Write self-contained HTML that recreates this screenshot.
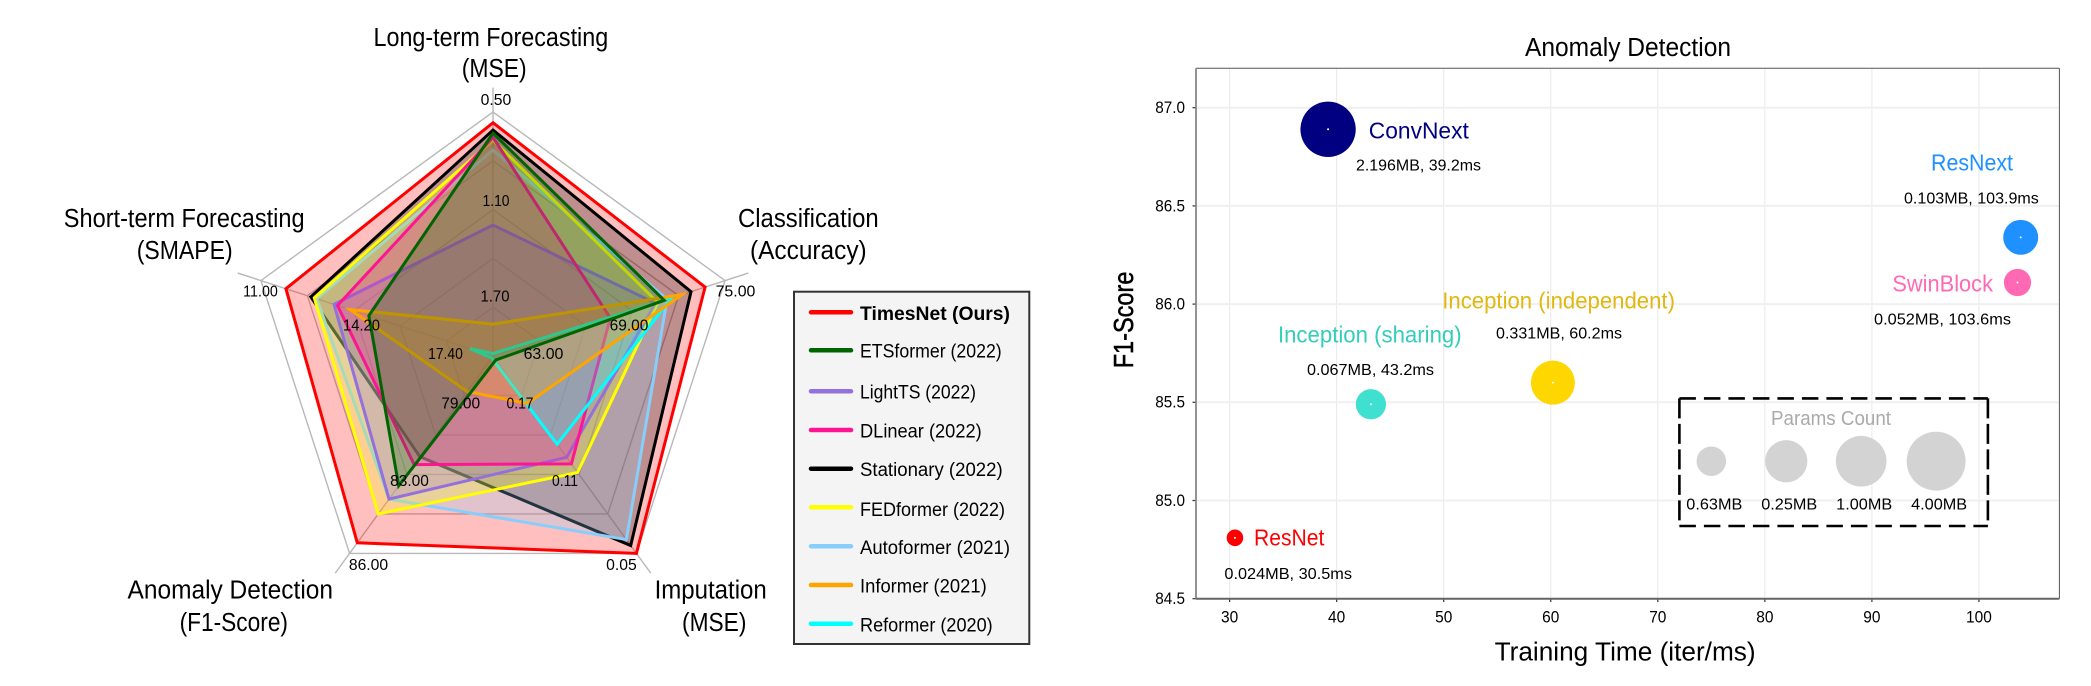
<!DOCTYPE html>
<html lang="en">
<head>
<meta charset="utf-8">
<title>TimesNet radar and anomaly detection bubble chart</title>
<style>
html,body{margin:0;padding:0;background:#fff;width:2091px;height:686px;overflow:hidden}
svg{display:block}
text{font-family:"Liberation Sans",sans-serif;fill:#000}
.axis-name{font-size:25.5px}
.radar-tick{font-size:15.5px;text-anchor:middle}
.legend-text{font-size:19px}
.note{font-size:16px;text-anchor:middle}
.model{font-size:23px;text-anchor:middle}
.tick{font-size:16.5px}
</style>
</head>
<body>
<svg id="figure" xmlns="http://www.w3.org/2000/svg" width="2091" height="686" viewBox="0 0 2091 686">
  <g id="radar">
    <g id="radar-grid"></g>
    <g id="radar-series"></g>
    <g>
      <text class="axis-name" x="373.5" y="46" textLength="234.7" lengthAdjust="spacingAndGlyphs">Long-term Forecasting</text>
      <text class="axis-name" x="461.7" y="77" textLength="65" lengthAdjust="spacingAndGlyphs">(MSE)</text>
      <text class="axis-name" x="63.8" y="227" textLength="240.8" lengthAdjust="spacingAndGlyphs">Short-term Forecasting</text>
      <text class="axis-name" x="136.7" y="259" textLength="96" lengthAdjust="spacingAndGlyphs">(SMAPE)</text>
      <text class="axis-name" x="738" y="227" textLength="140.7" lengthAdjust="spacingAndGlyphs">Classification</text>
      <text class="axis-name" x="750" y="259" textLength="116.7" lengthAdjust="spacingAndGlyphs">(Accuracy)</text>
      <text class="axis-name" x="127.5" y="598.3" textLength="205.5" lengthAdjust="spacingAndGlyphs">Anomaly Detection</text>
      <text class="axis-name" x="179.6" y="631" textLength="108.4" lengthAdjust="spacingAndGlyphs">(F1-Score)</text>
      <text class="axis-name" x="654.6" y="598.3" textLength="112.2" lengthAdjust="spacingAndGlyphs">Imputation</text>
      <text class="axis-name" x="682" y="631" textLength="64.4" lengthAdjust="spacingAndGlyphs">(MSE)</text>
    </g>
    <g>
      <text class="radar-tick" x="496" y="105" textLength="30.6" lengthAdjust="spacingAndGlyphs">0.50</text>
      <text class="radar-tick" x="496" y="206" textLength="27" lengthAdjust="spacingAndGlyphs">1.10</text>
      <text class="radar-tick" x="495" y="301.7" textLength="29" lengthAdjust="spacingAndGlyphs">1.70</text>
      <text class="radar-tick" x="260.5" y="296.7" textLength="34.7" lengthAdjust="spacingAndGlyphs">11.00</text>
      <text class="radar-tick" x="361.5" y="330.7" textLength="37" lengthAdjust="spacingAndGlyphs">14.20</text>
      <text class="radar-tick" x="445.5" y="359" textLength="34.7" lengthAdjust="spacingAndGlyphs">17.40</text>
      <text class="radar-tick" x="735.5" y="296.7" textLength="39.8" lengthAdjust="spacingAndGlyphs">75.00</text>
      <text class="radar-tick" x="629" y="330.7" textLength="38.8" lengthAdjust="spacingAndGlyphs">69.00</text>
      <text class="radar-tick" x="543.5" y="359" textLength="39.8" lengthAdjust="spacingAndGlyphs">63.00</text>
      <text class="radar-tick" x="460.7" y="408.3" textLength="38.8" lengthAdjust="spacingAndGlyphs">79.00</text>
      <text class="radar-tick" x="520" y="408.3" textLength="27" lengthAdjust="spacingAndGlyphs">0.17</text>
      <text class="radar-tick" x="409.5" y="486" textLength="38.8" lengthAdjust="spacingAndGlyphs">83.00</text>
      <text class="radar-tick" x="565" y="486" textLength="26" lengthAdjust="spacingAndGlyphs">0.11</text>
      <text class="radar-tick" x="368.5" y="570" textLength="39.3" lengthAdjust="spacingAndGlyphs">86.00</text>
      <text class="radar-tick" x="621.5" y="570" textLength="30.6" lengthAdjust="spacingAndGlyphs">0.05</text>
    </g>
    <g>
      <rect x="794" y="291.7" width="235.3" height="352.3" fill="#f4f4f4" stroke="#333" stroke-width="2"/>
      <g>
        <line x1="811" x2="851" y1="312.3" y2="312.3" stroke="#ff0000" stroke-width="4.5" stroke-linecap="round"/>
        <text class="legend-text" x="860" y="320" font-weight="bold" textLength="150" lengthAdjust="spacingAndGlyphs">TimesNet (Ours)</text>
      </g>
      <g>
        <line x1="811" x2="851" y1="350.3" y2="350.3" stroke="#006400" stroke-width="4.5" stroke-linecap="round"/>
        <text class="legend-text" x="860" y="357.3" textLength="141.7" lengthAdjust="spacingAndGlyphs">ETSformer (2022)</text>
      </g>
      <g>
        <line x1="811" x2="851" y1="391.3" y2="391.3" stroke="#9370db" stroke-width="4.5" stroke-linecap="round"/>
        <text class="legend-text" x="860" y="398.7" textLength="116" lengthAdjust="spacingAndGlyphs">LightTS (2022)</text>
      </g>
      <g>
        <line x1="811" x2="851" y1="430" y2="430" stroke="#ff1493" stroke-width="4.5" stroke-linecap="round"/>
        <text class="legend-text" x="860" y="437.7" textLength="121.7" lengthAdjust="spacingAndGlyphs">DLinear (2022)</text>
      </g>
      <g>
        <line x1="811" x2="851" y1="468.7" y2="468.7" stroke="#000000" stroke-width="4.5" stroke-linecap="round"/>
        <text class="legend-text" x="860" y="476" textLength="142.7" lengthAdjust="spacingAndGlyphs">Stationary (2022)</text>
      </g>
      <g>
        <line x1="811" x2="851" y1="507.3" y2="507.3" stroke="#ffff00" stroke-width="4.5" stroke-linecap="round"/>
        <text class="legend-text" x="860" y="516" textLength="145" lengthAdjust="spacingAndGlyphs">FEDformer (2022)</text>
      </g>
      <g>
        <line x1="811" x2="851" y1="546.3" y2="546.3" stroke="#87cefa" stroke-width="4.5" stroke-linecap="round"/>
        <text class="legend-text" x="860" y="554" textLength="150" lengthAdjust="spacingAndGlyphs">Autoformer (2021)</text>
      </g>
      <g>
        <line x1="811" x2="851" y1="585" y2="585" stroke="#ffa500" stroke-width="4.5" stroke-linecap="round"/>
        <text class="legend-text" x="860" y="592.7" textLength="126.7" lengthAdjust="spacingAndGlyphs">Informer (2021)</text>
      </g>
      <g>
        <line x1="811" x2="851" y1="623.7" y2="623.7" stroke="#00ffff" stroke-width="4.5" stroke-linecap="round"/>
        <text class="legend-text" x="860" y="631.7" textLength="132.7" lengthAdjust="spacingAndGlyphs">Reformer (2020)</text>
      </g>
    </g>
  </g>

  <g id="bubble">
    <text x="1525" y="56" font-size="25.5" textLength="206" lengthAdjust="spacingAndGlyphs">Anomaly Detection</text>
    <text x="1494.6" y="660.7" font-size="25.5" textLength="261" lengthAdjust="spacingAndGlyphs">Training Time (iter/ms)</text>
    <text transform="translate(1133 368.3) rotate(-90)" font-size="28" stroke="#000" stroke-width="0.5" textLength="96.7" lengthAdjust="spacingAndGlyphs">F1-Score</text>
    <g id="bubble-grid"></g>
    <g id="bubble-ticks"></g>
    <g>
      <line x1="1196" x2="2059.4" y1="68.3" y2="68.3" stroke="#555" stroke-width="1"/>
      <line x1="2059.4" x2="2059.4" y1="68.3" y2="598.7" stroke="#555" stroke-width="1"/>
      <line x1="1196" x2="1196" y1="68.3" y2="598.7" stroke="#888" stroke-width="1.8"/>
      <line x1="1196" x2="2059.4" y1="598.7" y2="598.7" stroke="#666" stroke-width="2"/>
    </g>
    <g id="bubble-points"></g>
    <g>
      <text class="model" x="1418.8" y="138.3" style="fill:#000080" textLength="100" lengthAdjust="spacingAndGlyphs">ConvNext</text>
      <text class="note" x="1418.5" y="170.7" textLength="125" lengthAdjust="spacingAndGlyphs">2.196MB, 39.2ms</text>
      <text class="model" x="1972" y="170.7" style="fill:#1e90ff" textLength="82" lengthAdjust="spacingAndGlyphs">ResNext</text>
      <text class="note" x="1971.4" y="203.3" textLength="134.8" lengthAdjust="spacingAndGlyphs">0.103MB, 103.9ms</text>
      <text class="model" x="1942.7" y="291.7" style="fill:#ff69b4" textLength="100.6" lengthAdjust="spacingAndGlyphs">SwinBlock</text>
      <text class="note" x="1942.5" y="324.3" textLength="137" lengthAdjust="spacingAndGlyphs">0.052MB, 103.6ms</text>
      <text class="model" x="1558.6" y="308.3" style="fill:#e0b810" textLength="232.7" lengthAdjust="spacingAndGlyphs">Inception (independent)</text>
      <text class="note" x="1559" y="338.3" textLength="126" lengthAdjust="spacingAndGlyphs">0.331MB, 60.2ms</text>
      <text class="model" x="1369.8" y="342.5" style="fill:#33cdbb" textLength="183.7" lengthAdjust="spacingAndGlyphs">Inception (sharing)</text>
      <text class="note" x="1370.5" y="375" textLength="127" lengthAdjust="spacingAndGlyphs">0.067MB, 43.2ms</text>
      <text class="model" x="1289.2" y="545.7" style="fill:#ff0000" textLength="70.4" lengthAdjust="spacingAndGlyphs">ResNet</text>
      <text class="note" x="1288.2" y="579" textLength="127.6" lengthAdjust="spacingAndGlyphs">0.024MB, 30.5ms</text>
    </g>
    <g id="size-legend">
      <line x1="1679.4" x2="1987.9" y1="398.4" y2="398.4" stroke="#000" stroke-width="2.6" stroke-dasharray="16.5 8"/>
      <line x1="1679.4" x2="1987.9" y1="526" y2="526" stroke="#000" stroke-width="2.6" stroke-dasharray="16.5 8"/>
      <line x1="1679.4" x2="1679.4" y1="398.4" y2="526" stroke="#000" stroke-width="2.6" stroke-dasharray="20 5.5"/>
      <line x1="1987.9" x2="1987.9" y1="398.4" y2="526" stroke="#000" stroke-width="2.6" stroke-dasharray="20 5.5"/>
      <text x="1771" y="425" font-size="20" style="fill:#aaaaaa" textLength="120" lengthAdjust="spacingAndGlyphs">Params Count</text>
    </g>
  </g>
</svg>
<script>
// ---------- Radar data (axis order: long-term, classification, imputation, anomaly, short-term) ----------
const radarAxisCenterValues = [2.0, 60, 0.2, 78, 19];
const radarAxisOuterValues = [0.5, 75, 0.05, 86, 11];
const gridLevels = [0.2, 0.4, 0.6, 0.8, 1.0];
const timesNetValues = [0.566, 73.71, 0.05, 85.57, 11.86];
const etsformerValues = [0.63, 71.07, 0.197, 83.26, 14.72];
const lightTsValues = [1.195, 70.5, 0.123, 83.8, 13.52];
const dLinearValues = [0.656, 67.58, 0.118, 82.4, 13.64];
const stationaryValues = [0.611, 72.8, 0.056, 82.08, 12.72];
const fedformerValues = [0.673, 70.65, 0.1115, 84.4, 12.84];
const autoformerValues = [0.734, 71.25, 0.0605, 83.8, 12.92];
const informerValues = [1.804, 72.24, 0.164, 79.44, 14.07];
const reformerValues = [1.985, 71.55, 0.133, 78.08, 18.2];

// ---------- Bubble data ----------
const modelTrainingTimes = [39.2, 103.9, 103.6, 60.2, 43.2, 30.5];
const modelF1Scores = [86.89, 86.34, 86.11, 85.6, 85.49, 84.81];
const modelParamsMB = [2.196, 0.103, 0.052, 0.331, 0.067, 0.024];
const modelIds = ['convnext', 'resnext', 'swinblock', 'inception-independent', 'inception-sharing', 'resnet'];
const sizeLegendParams = [0.063, 0.25, 1, 4];
const sizeLegendLabels = ['0.63MB', '0.25MB', '1.00MB', '4.00MB'];
const sizeLegendTimes = [75, 82, 89, 96];
const sizeLegendF1 = 85.2;
const xTicks = [30, 40, 50, 60, 70, 80, 90, 100];
const yTicks = [87.0, 86.5, 86.0, 85.5, 85.0, 84.5];

const SVG_NS = 'http://www.w3.org/2000/svg';
function make(tag, parent, props) {
  const el = document.createElementNS(SVG_NS, tag);
  for (const k in props) el.setAttribute(k, props[k]);
  parent.appendChild(el);
  return el;
}
function tickTextWidth(str) {
  return str.replace(/[^0-9]/g, '').length * 8.6 + (str.indexOf('.') >= 0 ? 4 : 0);
}

// ---------- Radar axes ----------
const CX = 493, CY = 356, R = 244;
function radarRadius(axisIndex, value) {
  const c = radarAxisCenterValues[axisIndex];
  const o = radarAxisOuterValues[axisIndex];
  return R * (value - c) / (o - c);
}
function polar(axisIndex, radius) {
  const a = axisIndex * 2 * Math.PI / 5;
  return [CX + radius * Math.sin(a), CY - radius * Math.cos(a)];
}
function pointsFor(values) {
  return values.map((v, i) => polar(i, radarRadius(i, v)).map(n => n.toFixed(2)).join(',')).join(' ');
}

const radarGrid = document.getElementById('radar-grid');
gridLevels.forEach((level) => {
  const ring = make('polygon', radarGrid, {
    points: [0, 1, 2, 3, 4].map(i => polar(i, R * level).join(',')).join(' '),
    fill: 'none', stroke: '#b8b8b8', 'stroke-width': 1.4
  });
  
  
});
radarAxisOuterValues.forEach((_, i) => {
  const end = polar(i, R * 1.1);
  const spoke = make('line', radarGrid, {
    x1: CX, y1: CY, x2: end[0], y2: end[1], stroke: '#b8b8b8', 'stroke-width': 1.4
  });
  
  
});

const radarSeriesLayer = document.getElementById('radar-series');
function drawSeries(id, values, color) {
  const poly = make('polygon', radarSeriesLayer, {
    points: pointsFor(values),
    fill: color, 'fill-opacity': 0.25, stroke: color, 'stroke-width': 3,
    'stroke-linejoin': 'miter', 'stroke-miterlimit': 10
  });
  
  
}
drawSeries('series-timesnet', timesNetValues, '#ff0000');
drawSeries('series-stationary', stationaryValues, '#000000');
drawSeries('series-autoformer', autoformerValues, '#87cefa');
drawSeries('series-fedformer', fedformerValues, '#ffff00');
drawSeries('series-lightts', lightTsValues, '#9370db');
drawSeries('series-dlinear', dLinearValues, '#ff1493');
drawSeries('series-reformer', reformerValues, '#00ffff');
drawSeries('series-informer', informerValues, '#ffa500');
drawSeries('series-etsformer', etsformerValues, '#006400');

// ---------- Bubble axes ----------
function xScale(t) { return 1229.6 + (t - 30) * 10.705; }
function yScale(f) { return 107.7 + (87 - f) * 196.4; }
function radiusScale(p) {
  const L = -Math.log(p);
  return 25.3 - 3 * L - 1.26 * Math.pow(Math.max(0, L - 1.39), 1.8);
}

const gridLayer = document.getElementById('bubble-grid');
const tickLayer = document.getElementById('bubble-ticks');
xTicks.forEach((t) => {
  const x = xScale(t);
  const g = make('line', gridLayer, { x1: x, x2: x, y1: 68.3, y2: 598.7, stroke: '#e8e8e8', 'stroke-width': 1 });
  
  
  const m = make('line', tickLayer, { x1: x, x2: x, y1: 598.7, y2: 602, stroke: '#333', 'stroke-width': 1.2 });
  
  
  const tickStr = String(t);
  const label = make('text', tickLayer, { x: x, y: 622.7, 'text-anchor': 'middle', class: 'tick', textLength: tickTextWidth(tickStr), lengthAdjust: 'spacingAndGlyphs' });
  
  
  label.textContent = tickStr;
});
yTicks.forEach((f) => {
  const y = yScale(f);
  const g = make('line', gridLayer, { x1: 1196, x2: 2059.4, y1: y, y2: y, stroke: '#f0f0f0', 'stroke-width': 2 });
  
  
  const m = make('line', tickLayer, { x1: 1192.5, x2: 1196, y1: y, y2: y, stroke: '#333', 'stroke-width': 1.2 });
  
  
  const tickStr = f.toFixed(1);
  const label = make('text', tickLayer, { x: 1185, y: y + 5.4, 'text-anchor': 'end', class: 'tick', textLength: tickTextWidth(tickStr), lengthAdjust: 'spacingAndGlyphs' });
  
  
  label.textContent = tickStr;
});

const pointLayer = document.getElementById('bubble-points');
function drawBubble(id, time, f1, params, color) {
  const cx = xScale(time), cy = yScale(f1);
  const c = make('circle', pointLayer, { cx: cx, cy: cy, r: radiusScale(params), fill: color });
  
  
  const d = make('circle', pointLayer, { cx: cx, cy: cy, r: 1, fill: '#ffffff' });
  
  
}
const modelColors = ['#000080', '#1e90ff', '#ff69b4', '#ffd700', '#40e0d0', '#ff0000'];
modelIds.forEach((id, i) => {
  drawBubble(id, modelTrainingTimes[i], modelF1Scores[i], modelParamsMB[i], modelColors[i]);
});

const sizeLayer = document.getElementById('size-legend');
sizeLegendParams.forEach((p, i) => {
  const cx = xScale(sizeLegendTimes[i]);
  const c = make('circle', sizeLayer, { cx: cx, cy: yScale(sizeLegendF1), r: radiusScale(p), fill: '#d3d3d3' });
  
  
  const t = make('text', sizeLayer, {
    x: cx + 3, y: 509.5, 'text-anchor': 'middle', 'font-size': 16,
    textLength: 56, lengthAdjust: 'spacingAndGlyphs'
  });
  
  
  t.textContent = sizeLegendLabels[i];
});
</script>
</body>
</html>
